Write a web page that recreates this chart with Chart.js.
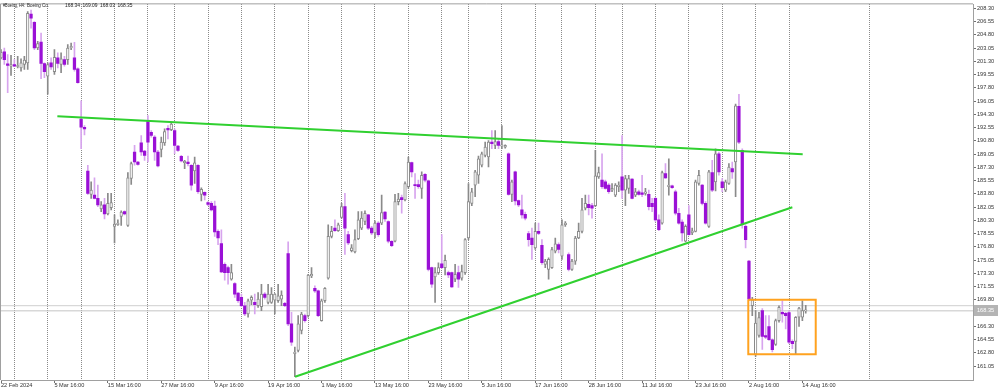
<!DOCTYPE html>
<html><head><meta charset="utf-8">
<script src="https://cdn.jsdelivr.net/npm/chart.js"></script>
<style>html,body{margin:0;padding:0;background:#fff;overflow:hidden}#wrap{width:1000px;height:390px}</style>
</head><body><div id="wrap"><canvas id="c" width="1000" height="390"></canvas></div>
<script>
// ---- data (H4 bars, Boeing Co.) ----
const opens=[201.75,202.54,200.97,200.66,200.88,200.62,200.44,200.88,201.10,207.55,
206.46,203.06,203.85,201.01,199.35,201.10,199.92,201.75,200.88,201.53,
201.53,203.06,201.75,200.31,193.68,192.59,186.79,183.73,183.64,183.21,
181.81,182.34,181.16,181.99,179.50,179.72,180.81,181.46,179.63,185.83,
189.32,188.01,190.54,189.45,193.33,191.93,191.28,189.32,189.67,190.54,
192.46,192.28,192.15,190.10,188.75,187.92,188.01,187.57,186.83,187.57,
183.73,183.99,182.64,182.55,182.20,178.85,177.23,174.48,174.05,172.52,
171.95,170.69,170.12,169.03,167.94,169.77,169.46,169.03,168.90,170.56,
169.46,169.46,169.77,169.68,169.90,169.33,175.92,166.63,162.70,163.14,
165.76,167.72,167.72,172.96,171.34,170.99,167.07,169.68,172.65,178.19,
179.28,178.93,180.68,182.12,178.41,176.31,176.14,177.88,179.28,180.15,
181.03,179.28,178.63,179.94,179.94,181.38,180.15,177.54,177.54,182.77,
183.30,182.99,184.74,187.92,185.04,185.04,184.52,186.39,185.52,174.05,
172.83,173.39,174.57,174.05,173.39,173.39,172.52,173.39,172.65,173.39,
177.97,182.55,184.95,186.26,187.57,188.88,188.66,190.63,190.19,190.71,
190.10,189.97,189.10,183.73,186.70,182.90,181.68,181.11,178.54,177.97,
176.66,178.85,177.01,174.48,173.83,174.05,176.23,177.10,175.57,179.72,
175.79,173.83,174.92,177.97,178.85,181.90,182.42,182.25,182.25,186.04,
185.61,185.39,184.95,184.30,183.64,184.74,186.04,184.30,184.52,185.74,
183.64,184.08,183.95,183.86,183.73,182.55,183.21,180.37,179.94,186.48,
184.74,184.87,184.08,181.24,180.07,177.54,181.03,178.63,178.85,185.17,
184.95,182.55,179.50,186.61,185.39,189.10,185.39,184.30,185.17,187.13,
188.01,195.34,189.53,179.50,174.92,169.03,162.62,165.10,168.37,165.10,
166.28,164.53,163.92,167.07,168.15,168.02,168.11,164.32,164.32,167.50,
167.50,168.34];
const highs=[202.84,203.06,202.19,202.10,201.53,201.97,201.62,201.97,207.86,208.08,
206.55,203.93,205.02,201.10,201.10,201.75,202.84,202.41,202.41,201.97,
203.50,203.71,203.80,200.44,196.08,192.81,187.57,185.39,185.91,184.95,
182.77,183.21,183.86,183.86,181.03,180.37,181.55,181.55,186.61,188.01,
190.19,188.10,191.50,189.53,194.12,192.15,191.50,189.53,191.28,192.37,
192.81,193.24,192.37,190.19,188.88,188.23,188.79,187.66,188.66,187.66,
184.60,184.08,182.77,182.77,182.86,179.06,179.06,174.70,174.27,174.48,
172.08,170.77,170.56,169.46,169.90,170.34,170.56,170.77,171.86,170.77,
171.86,171.43,170.64,171.86,170.99,169.46,177.45,168.15,163.57,167.72,
168.15,167.94,173.17,174.05,171.65,171.08,169.90,171.43,179.72,179.50,
180.37,179.94,182.55,183.86,178.85,177.10,179.06,181.46,181.46,181.55,
181.11,179.50,180.24,180.15,183.64,181.46,180.24,177.62,183.73,183.86,
183.64,185.39,188.66,188.01,186.48,185.61,186.70,186.48,185.61,174.13,
174.05,174.70,178.41,175.70,173.61,173.48,174.48,174.27,174.39,177.88,
185.17,184.52,186.92,188.79,189.32,190.63,190.84,192.15,192.15,191.06,
192.81,190.28,189.23,185.61,186.79,182.99,183.64,181.38,178.85,179.28,
179.94,179.94,177.75,175.14,175.35,176.75,177.97,177.32,180.37,180.15,
176.01,175.14,178.19,179.94,183.21,183.64,183.64,182.55,189.53,187.35,
189.10,185.61,185.17,185.17,185.17,185.39,191.50,186.26,186.26,185.83,
184.52,184.30,186.26,184.52,184.30,183.21,183.30,181.03,186.79,187.79,
188.44,184.95,184.30,181.90,180.37,179.72,182.25,179.28,185.61,186.92,
185.04,182.77,186.92,188.23,189.75,189.32,185.83,185.61,187.79,188.01,
195.64,196.95,189.75,179.72,175.01,170.12,168.37,168.15,168.64,167.72,
167.72,164.67,167.28,169.03,169.68,168.15,168.37,164.53,167.59,168.81,
169.68,169.09];
const lows=[201.62,200.88,197.17,199.44,200.60,200.44,200.01,200.22,200.22,205.68,
202.84,202.84,199.00,199.13,196.95,200.22,199.57,200.44,199.79,200.66,
200.88,202.84,200.01,198.40,189.75,191.58,183.73,183.21,183.12,182.12,
181.46,180.50,181.03,181.68,177.32,179.63,179.63,181.03,179.50,185.04,
187.57,187.57,188.88,188.23,188.01,191.28,188.23,187.35,188.66,190.19,
191.06,192.15,189.10,189.40,188.01,187.13,187.48,184.30,185.17,183.86,
182.86,182.99,182.25,181.55,178.19,177.10,173.39,172.39,171.86,172.39,
170.12,169.46,168.90,167.72,167.50,169.16,167.94,168.81,168.37,169.90,
169.25,169.33,167.94,169.46,169.03,168.90,166.41,163.79,159.65,162.92,
165.32,166.85,167.50,172.74,170.77,167.59,166.98,169.46,172.52,177.97,
178.85,178.85,180.59,175.79,177.10,176.14,176.01,177.75,179.06,179.72,
179.06,178.41,177.97,178.19,179.72,180.15,177.32,176.84,177.45,182.34,
181.24,182.86,184.52,186.04,183.21,184.52,183.21,185.39,173.61,171.43,
169.46,173.17,173.96,173.09,172.74,171.43,172.21,171.43,172.39,173.17,
177.75,182.25,183.43,185.17,187.35,188.66,187.35,189.75,189.75,189.75,
189.75,189.84,183.64,182.77,182.34,182.12,180.59,180.37,176.88,175.14,
176.45,178.41,174.48,174.05,172.52,173.96,176.01,176.01,175.14,179.50,
173.61,173.70,174.48,177.88,178.63,181.68,181.03,180.59,182.12,185.83,
184.52,184.43,183.86,184.08,183.43,184.08,183.21,182.25,183.86,183.12,
183.43,183.64,183.43,183.64,181.68,181.46,180.15,178.93,179.80,185.83,
183.64,184.52,181.03,179.80,177.54,177.45,178.35,178.41,178.76,184.95,
182.34,179.80,179.37,184.08,184.17,186.26,184.08,184.08,185.04,185.83,
183.43,190.41,179.28,176.66,169.68,167.72,162.35,164.88,163.27,164.67,
164.45,162.92,163.79,166.85,166.85,165.98,164.01,163.36,162.62,166.28,
167.07,168.03];
const closes=[202.49,201.53,200.75,200.88,200.66,200.75,201.10,201.45,207.64,206.99,
203.06,203.63,201.01,199.92,200.88,200.57,201.84,201.01,201.62,200.88,
203.06,203.28,200.22,198.48,192.59,192.37,183.86,184.30,183.21,182.34,
182.34,181.16,182.55,182.64,179.80,179.94,181.38,181.16,185.91,187.79,
188.01,187.70,189.32,188.88,190.63,191.50,189.32,187.48,190.63,192.02,
192.24,193.02,190.19,189.53,188.14,188.10,187.79,184.95,187.88,184.08,
184.39,183.64,182.42,181.68,178.76,177.97,173.48,173.39,173.39,173.39,
170.56,169.68,169.03,167.94,169.68,170.12,169.16,169.90,170.56,170.12,
170.56,170.56,170.56,170.34,170.42,169.03,166.63,164.23,162.92,166.63,
167.94,167.07,173.09,173.17,170.99,167.72,169.68,171.34,178.19,178.85,
178.93,179.72,182.12,179.28,177.32,176.66,177.75,180.37,180.59,181.24,
179.28,178.63,179.94,178.41,181.33,180.50,177.54,176.97,182.77,183.12,
183.03,185.17,188.01,186.70,184.87,184.74,186.26,185.61,173.83,171.86,
173.39,174.05,174.05,175.01,173.09,171.52,173.17,172.52,173.52,177.75,
182.77,184.08,186.70,188.44,189.10,189.97,190.63,190.41,190.71,190.19,
190.28,190.19,183.73,185.39,182.86,182.34,181.03,180.59,177.75,177.10,
178.85,178.58,174.70,174.92,175.14,176.45,177.19,176.45,179.72,179.94,
173.83,174.92,177.97,178.85,181.68,182.55,181.99,181.90,186.17,186.61,
184.74,184.52,184.08,184.52,184.95,184.95,184.30,185.83,185.83,183.21,
184.08,183.73,183.73,184.08,182.12,182.12,180.37,179.06,186.61,185.91,
184.95,184.60,181.24,179.94,178.63,179.50,178.41,178.93,185.39,186.26,
182.55,179.94,186.70,184.30,189.10,186.70,184.60,185.39,187.35,186.70,
195.42,190.63,179.72,177.75,169.90,169.81,166.72,167.46,164.97,164.88,
164.53,163.22,167.07,168.81,167.94,167.72,164.23,164.01,167.50,168.72,
168.37,168.35];
// time-axis labels (bar index -> text)
const labelBars=[0,16,32,48,64,80,96,112,128,144,160,176,192,208,224,240];
const labelTexts=["22 Feb 2024","5 Mar 16:00","15 Mar 16:00","27 Mar 16:00","9 Apr 16:00","19 Apr 16:00","1 May 16:00","13 May 16:00","23 May 16:00","5 Jun 16:00","17 Jun 16:00","28 Jun 16:00","11 Jul 16:00","23 Jul 16:00","2 Aug 16:00","14 Aug 16:00"];
// week separators (bar index)
const weekStarts=[4,14,24,34,44,52,62,72,82,92,102,112,122,132,140,150,160,168,178,186,196,206,216,226,236,260];
// price axis ticks
const yTicks=[208.30,206.55,204.80,203.05,201.30,199.55,197.80,196.05,194.30,192.55,190.80,189.05,187.30,185.55,183.80,182.05,180.30,178.55,176.80,175.05,173.30,171.55,169.80,168.05,166.30,164.55,162.80,161.05];
// drawn objects
const upperTrend=[{x:16.88,y:194.03},{x:240.1,y:189.02}];
const lowerTrend=[{x:88.07,y:159.65},{x:237.0,y:182.03}];
const boxX=[223.8,244.0], boxY=[162.62,169.82];
const bidPrice=168.35, askPrice=169.03;
const titleParts=["#Boeing, H4:","Boeing Co.","168.34","169.09","168.03","168.35"];

const X_MAX=291.1, Y_MIN=159.22, Y_MAX=208.82;
const FONT='"Liberation Sans", Arial, sans-serif';
const BULL_LINE='#8a8a8a', BEAR='#9a10d6', BEAR_WICK='#d7a4ee';
const isBull=i=>closes[i]>=opens[i];

const wickData=lows.map((l,i)=>({x:i,y:[l,highs[i]]}));
const bodyData=opens.map((o,i)=>({x:i,y:[o,closes[i]]}));

const deco={
  id:'deco',
  afterDraw(chart){
    const {ctx,chartArea:a,scales:{y}}=chart;
    ctx.save();
    ctx.strokeStyle='#a0a0a0';ctx.lineWidth=1;
    ctx.beginPath();
    ctx.moveTo(a.left-0.5,a.bottom);ctx.lineTo(a.left-0.5,a.top-0.5);ctx.lineTo(a.right,a.top-0.5);
    ctx.stroke();
    // current price box
    const py=y.getPixelForValue(bidPrice);
    ctx.fillStyle='#b4b4b4';
    ctx.fillRect(a.right+1,Math.round(py)-6,24,11);
    ctx.fillStyle='#ffffff';ctx.font='5.6px '+FONT;ctx.textBaseline='middle';ctx.textAlign='left';
    ctx.fillText(bidPrice.toFixed(2),a.right+4,py);
    // title
    ctx.fillStyle='#222';
    ctx.font='5.8px '+FONT;
    const xs=[3,27,65,82.5,100,117.5], mw=[22,22,15,15,15,15];
    titleParts.forEach((t,k)=>ctx.fillText(t,xs[k],5.5,mw[k]));
    ctx.restore();
  }
};

new Chart(document.getElementById('c'),{
  type:'bar',
  data:{datasets:[
    {type:'line',data:[{x:0,y:askPrice},{x:X_MAX,y:askPrice}],borderColor:'#cfcfcf',borderWidth:1,pointRadius:0,order:10},
    {type:'line',data:[{x:0,y:bidPrice},{x:X_MAX,y:bidPrice}],borderColor:'#c4c4c4',borderWidth:1,pointRadius:0,order:9},
    {data:wickData,grouped:false,barThickness:1,borderWidth:0,order:5,
     backgroundColor:c=>isBull(c.dataIndex)?BULL_LINE:BEAR_WICK},
    {data:bodyData,grouped:false,barThickness:2.6,minBarLength:1,borderSkipped:false,order:4,
     backgroundColor:c=>isBull(c.dataIndex)?'#ffffff':BEAR,
     borderColor:c=>isBull(c.dataIndex)?BULL_LINE:BEAR,
     borderWidth:c=>isBull(c.dataIndex)?1:0},
    {type:'line',data:upperTrend,borderColor:'#30d030',borderWidth:2,pointRadius:0,order:1},
    {type:'line',data:lowerTrend,borderColor:'#30d030',borderWidth:2,pointRadius:0,order:1},
    {type:'line',data:[{x:boxX[0],y:boxY[1]},{x:boxX[1],y:boxY[1]},{x:boxX[1],y:boxY[0]},{x:boxX[0],y:boxY[0]},{x:boxX[0],y:boxY[1]}],
     borderColor:'#ffa21f',borderWidth:2,pointRadius:0,order:0}
  ]},
  options:{
    responsive:false,animation:false,events:[],
    layout:{padding:{left:1,top:1,right:0,bottom:0}},
    plugins:{legend:{display:false},tooltip:{enabled:false}},
    scales:{
      x:{type:'linear',min:0,max:X_MAX,offset:false,position:'bottom',
        grid:{display:true,offset:false,drawOnChartArea:false,drawTicks:true,tickLength:3,tickColor:'#707070'},
        border:{display:true,color:'#a0a0a0'},
        ticks:{autoSkip:false,maxRotation:0,minRotation:0,align:'start',padding:-1,color:'#333',font:{family:FONT,size:5.6},
          callback:v=>{const k=labelBars.indexOf(v);return k>=0?labelTexts[k]:'';}},
        afterBuildTicks:s=>{s.ticks=labelBars.map(v=>({value:v}));},
        afterFit:s=>{s.height=10;}},
      xw:{type:'linear',min:0,max:X_MAX,offset:false,position:'top',
        grid:{display:true,offset:false,drawOnChartArea:true,drawTicks:false,color:'#8a8a8a',lineWidth:1},
        border:{display:false,dash:[1,1]},
        ticks:{display:false},
        afterBuildTicks:s=>{s.ticks=weekStarts.map(v=>({value:v}));},
        afterFit:s=>{s.height=0;}},
      y:{type:'linear',position:'right',min:Y_MIN,max:Y_MAX,
        grid:{display:true,drawOnChartArea:false,drawTicks:true,tickLength:3,tickColor:'#707070'},
        border:{display:true,color:'#a0a0a0'},
        ticks:{padding:1,color:'#333',font:{family:FONT,size:5.6},callback:v=>v.toFixed(2)},
        afterBuildTicks:s=>{s.ticks=yTicks.map(v=>({value:v}));},
        afterFit:s=>{s.width=27;}}
    }
  },
  plugins:[deco]
});
</script></body></html>
